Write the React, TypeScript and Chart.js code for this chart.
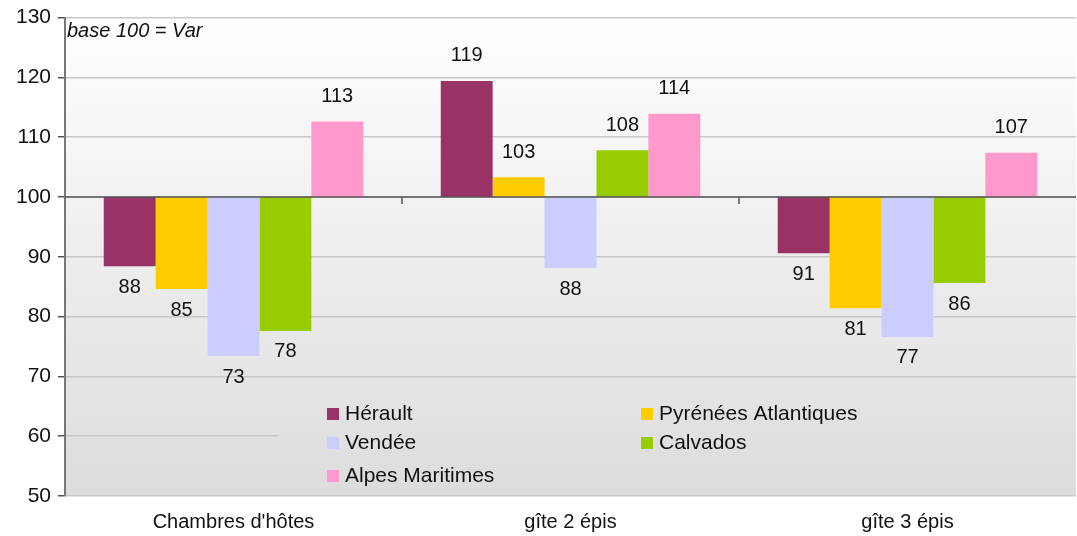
import React, { useEffect, useRef } from "react";
import { Chart, registerables } from "chart.js";

Chart.register(...registerables);

const categories = ["Chambres d'hôtes", "gîte 2 épis", "gîte 3 épis"];
const seriesNames = ["Hérault", "Pyrénées Atlantiques", "Vendée", "Calvados", "Alpes Maritimes"];
const seriesColors = ["#993366", "#FFCC00", "#CCCCFF", "#99CC00", "#FF99CC"];
const herault = [88.4, 119.4, 90.6];
const pyrenees = [84.6, 103.3, 81.4];
const vendee = [73.4, 88.1, 76.6];
const calvados = [77.6, 107.8, 85.6];
const alpes = [112.6, 113.9, 107.4];
const seriesValues = [herault, pyrenees, vendee, calvados, alpes];
const baseValue = 100;
const noteText = "base 100 = Var";

const FONT = "'Liberation Sans', Arial, sans-serif";

export default function App() {
  const ref = useRef<HTMLCanvasElement | null>(null);

  useEffect(() => {
    document.body.style.margin = "0";
    const canvas = ref.current;
    if (!canvas) return;

    const bgPlugin = {
      id: "bgPlugin",
      beforeDraw(chart: any) {
        const { ctx, chartArea } = chart;
        const g = ctx.createLinearGradient(0, chartArea.top, 0, chartArea.bottom);
        g.addColorStop(0, "#ffffff");
        g.addColorStop(1, "#dcdcdc");
        ctx.save();
        ctx.fillStyle = g;
        ctx.fillRect(chartArea.left, chartArea.top, chartArea.right - chartArea.left, chartArea.bottom - chartArea.top);
        ctx.restore();
      },
      beforeDatasetsDraw(chart: any) {
        const { ctx, chartArea } = chart;
        const g = ctx.createLinearGradient(0, chartArea.top, 0, chartArea.bottom);
        g.addColorStop(0, "#ffffff");
        g.addColorStop(1, "#dcdcdc");
        ctx.save();
        ctx.fillStyle = g;
        ctx.fillRect(278, 386, chartArea.right - 278, chartArea.bottom - 387);
        // legend
        ctx.font = `21px ${FONT}`;
        ctx.textBaseline = "middle";
        ctx.textAlign = "left";
        const cols = [327, 641];
        const rows = [414, 443, 476];
        seriesNames.forEach((name, i) => {
          const cx = cols[i % 2];
          const cy = rows[Math.floor(i / 2)];
          ctx.fillStyle = seriesColors[i];
          ctx.fillRect(cx, cy - 6, 12, 12);
          ctx.fillStyle = "#111";
          ctx.fillText(name, cx + 18, cy);
        });
        // note
        ctx.font = `italic 20px ${FONT}`;
        ctx.fillStyle = "#111";
        ctx.textBaseline = "middle";
        ctx.fillText(noteText, chartArea.left + 2, 31);
        ctx.restore();
      },
      afterDatasetsDraw(chart: any) {
        const { ctx, chartArea } = chart;
        const y = chart.scales.y.getPixelForValue(baseValue);
        const x = chart.scales.x;
        ctx.save();
        ctx.strokeStyle = "#555";
        ctx.lineWidth = 1.5;
        ctx.beginPath();
        ctx.moveTo(chartArea.left, y);
        ctx.lineTo(chartArea.right, y);
        for (let i = 1; i < categories.length; i++) {
          const px = (x.getPixelForValue(i - 1) + x.getPixelForValue(i)) / 2;
          ctx.moveTo(px, y);
          ctx.lineTo(px, y + 7);
        }
        ctx.stroke();
        // data labels
        ctx.font = `20px ${FONT}`;
        ctx.fillStyle = "#111";
        ctx.textAlign = "center";
        ctx.textBaseline = "middle";
        chart.data.datasets.forEach((ds: any, di: number) => {
          const meta = chart.getDatasetMeta(di);
          meta.data.forEach((bar: any, i: number) => {
            const v = seriesValues[di][i];
            const label = String(Math.round(v));
            const top = Math.min(bar.y, bar.base);
            const bottom = Math.max(bar.y, bar.base);
            if (v >= baseValue) {
              ctx.fillText(label, bar.x, top - 25);
            } else {
              ctx.fillText(label, bar.x, bottom + 21);
            }
          });
        });
        ctx.restore();
      },
    };

    const chart = new Chart(canvas, {
      type: "bar",
      data: {
        labels: categories,
        datasets: seriesNames.map((name, i) => ({
          label: name,
          data: seriesValues[i].map((v) => [baseValue, v]) as any,
          backgroundColor: seriesColors[i],
          borderWidth: 0,
          categoryPercentage: 0.77,
          barPercentage: 1.0,
        })),
      },
      options: {
        responsive: false,
        animation: false,
        layout: { padding: { left: 0, right: 1, top: 17, bottom: 0 } },
        plugins: {
          legend: { display: false },
          tooltip: { enabled: false },
        },
        scales: {
          x: {
            grid: { display: false },
            border: { display: false },
            ticks: { color: "#111", font: { family: FONT, size: 20 }, padding: 6 },
            afterFit(scale: any) {
              scale.height = 40;
            },
          },
          y: {
            min: 50,
            max: 130,
            ticks: { stepSize: 10, color: "#111", font: { family: FONT, size: 21, lineHeight: 1 }, padding: 7 },
            grid: { color: "#c8c8c8", tickColor: "#555", tickLength: 7, lineWidth: 1.5 },
            border: { color: "#777", width: 2 },
            afterFit(scale: any) {
              scale.width = 65;
            },
          },
        },
      },
      plugins: [bgPlugin],
    });
    return () => chart.destroy();
  }, []);

  return (
    <div style={{ width: 1077, height: 536 }}>
      <canvas ref={ref} width={1077} height={536} />
    </div>
  );
}
